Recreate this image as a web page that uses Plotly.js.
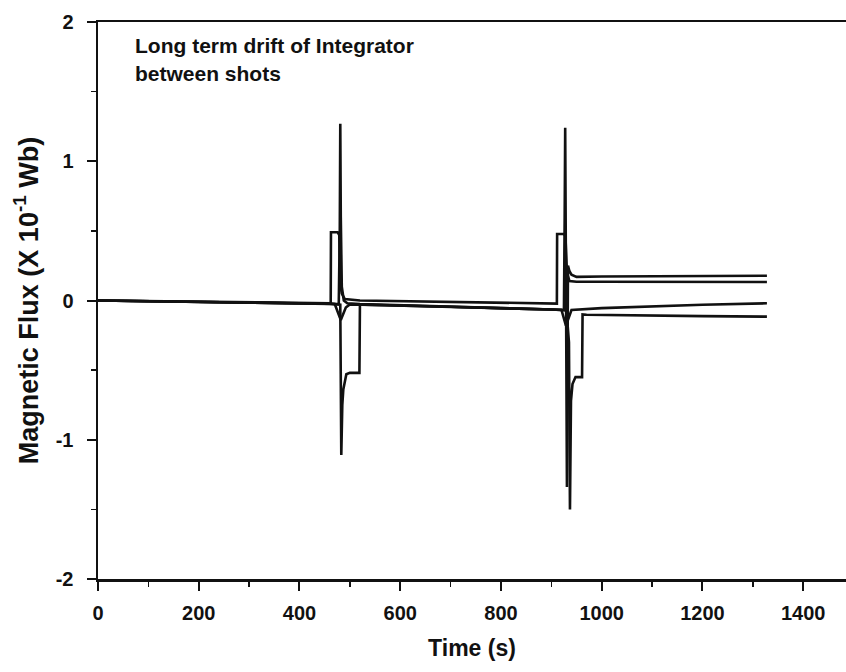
<!DOCTYPE html>
<html>
<head>
<meta charset="utf-8">
<script src="https://cdn.plot.ly/plotly-3.0.1.min.js"></script>
<style>
html,body{margin:0;padding:0;background:#fff;}
#chart{width:846px;height:672px;}
</style>
</head>
<body>
<div id="chart"></div>
<script>
// Time axis tick labels
const xTicks = [0, 200, 400, 600, 800, 1000, 1200, 1400];
const yTicks = [-2, -1, 0, 1, 2];

// Channel 1: positive pulse before each shot
const t1 = [0, 100, 200, 300, 400, 462, 462.5, 476, 479, 481, 484, 490, 520, 600, 700, 800, 900, 911, 911.5, 925, 928, 931, 936, 950, 1000, 1100, 1200, 1328];
const y1 = [0, -0.004, -0.008, -0.012, -0.016, -0.02, 0.49, 0.49, 0.47, 0.12, 0.05, 0.01, 0.0, -0.004, -0.01, -0.015, -0.02, -0.022, 0.478, 0.478, 0.46, 0.2, 0.14, 0.135, 0.135, 0.134, 0.134, 0.133];

// Channel 2: upward spike, settles high after 2nd shot
const t2 = [0, 100, 200, 300, 400, 460, 478, 480, 481, 482, 484, 488, 495, 520, 600, 700, 800, 900, 925, 926.5, 927.5, 929, 931, 933, 936, 940, 950, 1000, 1100, 1200, 1328];
const y2 = [0, -0.005, -0.01, -0.014, -0.018, -0.022, -0.025, 0.5, 1.27, 0.6, 0.1, 0.0, -0.02, -0.025, -0.035, -0.045, -0.055, -0.065, -0.07, 0.6, 1.24, 0.2, -1.34, 0.25, 0.21, 0.185, 0.17, 0.172, 0.174, 0.176, 0.178];

// Channel 3: downward spike with negative plateau
const t3 = [0, 100, 200, 300, 400, 460, 481, 483, 485, 487, 493, 500, 519, 520, 530, 600, 700, 800, 900, 930, 935, 937, 939, 942, 948, 961, 962, 970, 1000, 1100, 1200, 1328];
const y3 = [0, -0.005, -0.01, -0.015, -0.02, -0.024, -0.03, -1.11, -0.75, -0.64, -0.53, -0.52, -0.52, -0.03, -0.03, -0.036, -0.045, -0.055, -0.065, -0.07, -0.3, -1.5, -0.72, -0.6, -0.55, -0.55, -0.1, -0.102, -0.104, -0.108, -0.112, -0.116];

// Channel 4: small dip at each shot
const t4 = [0, 100, 200, 300, 400, 460, 470, 482, 492, 500, 600, 700, 800, 900, 920, 929, 940, 1000, 1100, 1200, 1328];
const y4 = [0, -0.006, -0.012, -0.016, -0.02, -0.022, -0.025, -0.14, -0.05, -0.028, -0.035, -0.045, -0.055, -0.062, -0.066, -0.18, -0.068, -0.055, -0.04, -0.03, -0.02];

const ink = '#111111';
const font = 'Liberation Sans, Arial, sans-serif';
const line = {color: ink, width: 2.6};

const traces = [
  {x: t1, y: y1, mode: 'lines', line: line, name: 'ch1'},
  {x: t2, y: y2, mode: 'lines', line: line, name: 'ch2'},
  {x: t3, y: y3, mode: 'lines', line: line, name: 'ch3'},
  {x: t4, y: y4, mode: 'lines', line: line, name: 'ch4'}
];

const layout = {
  width: 846, height: 672,
  margin: {l: 98, r: 0, t: 22, b: 93},
  paper_bgcolor: '#fff', plot_bgcolor: '#fff',
  showlegend: false,
  font: {family: font, color: ink, size: 19, weight: 'bold'},
  xaxis: {
    range: [0, 1485], tickvals: xTicks, ticktext: xTicks.map(String),
    showgrid: false, zeroline: false,
    showline: true, linecolor: ink, linewidth: 2.5, mirror: true,
    ticks: 'outside', ticklen: 9, tickwidth: 2, tickcolor: ink,
    minor: {dtick: 100, tick0: 0, ticks: 'outside', ticklen: 5, tickwidth: 1.5, tickcolor: ink},
    ticklabelstandoff: 5,
    tickfont: {size: 20, family: font, color: ink, weight: 'bold'},
    title: {text: 'Time (s)', font: {size: 23, family: font, color: ink, weight: 'bold'}, standoff: 18}
  },
  yaxis: {
    range: [-2, 2], tickvals: yTicks, ticktext: yTicks.map(String),
    showgrid: false, zeroline: false,
    showline: true, linecolor: ink, linewidth: 2.5,
    ticks: 'outside', ticklen: 9, tickwidth: 2, tickcolor: ink,
    minor: {dtick: 0.5, tick0: 0, ticks: 'outside', ticklen: 5, tickwidth: 1.5, tickcolor: ink},
    ticklabelstandoff: 9,
    tickfont: {size: 20, family: font, color: ink, weight: 'bold'},
    title: {text: 'Magnetic Flux (X 10<sup>-1</sup> Wb)', font: {size: 27, family: font, color: ink, weight: 'bold'}, standoff: 10}
  },
  annotations: [
    {xref: 'paper', yref: 'paper', x: 0.047, y: 0.9587, xanchor: 'left', yanchor: 'middle',
     text: 'Long term drift of Integrator', showarrow: false, font: {size: 21, family: font, color: ink, weight: 'bold'}},
    {xref: 'paper', yref: 'paper', x: 0.047, y: 0.9084, xanchor: 'left', yanchor: 'middle',
     text: 'between shots', showarrow: false, font: {size: 21, family: font, color: ink, weight: 'bold'}}
  ]
};

Plotly.newPlot('chart', traces, layout, {displayModeBar: false, staticPlot: true});
</script>
</body>
</html>
